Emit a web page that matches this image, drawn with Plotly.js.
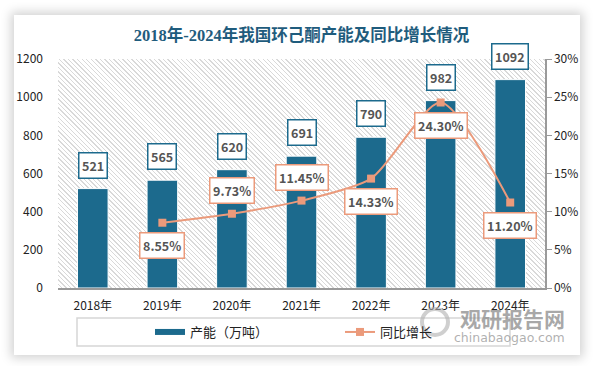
<!DOCTYPE html>
<html>
<head>
<meta charset="utf-8">
<script src="https://cdn.plot.ly/plotly-3.0.1.min.js"></script>
<style>
  html, body { margin:0; padding:0; background:#ffffff; width:594px; height:366px; overflow:hidden; }
  #card { position:absolute; left:14px; top:15px; width:566px; height:340px; background:#fff;
          box-shadow: 0 0 10px 3px rgba(0,0,0,0.18); }
  #hatch { position:absolute; left:58px; top:59px; width:487px; height:229px;
           background: repeating-linear-gradient(45deg, #ffffff 0px, #ffffff 2.2px, #d9d9d9 2.2px, #d9d9d9 3.2px); }
  #chart { position:absolute; left:0; top:0; width:594px; height:366px; }
</style>
</head>
<body>
<div id="card"></div>
<div id="hatch"></div>
<div id="chart"></div>
<script>
const categories = ['2018年','2019年','2020年','2021年','2022年','2023年','2024年'];
const capacity = [521, 565, 620, 691, 790, 982, 1092];
const growth = [null, 8.55, 9.73, 11.45, 14.33, 24.30, 11.20];
const growthLabels = ['', '8.55%', '9.73%', '11.45%', '14.33%', '24.30%', '11.20%'];
const growthLabelSide = [0, -1, 1, 1, -1, -1, -1];

const teal = '#1c6a8d';
const orange = '#eb9a7b';
const font = '"Noto Sans CJK SC", "Noto Sans", sans-serif';

const traces = [
  { type:'bar', x:categories, y:capacity, name:'产能（万吨）', marker:{color:teal, line:{color:'#ffffff', width:1}},
    width:0.44, showlegend:false, hoverinfo:'skip' },
  { type:'scatter', mode:'lines', x:[null], y:[null], name:'产能（万吨）', line:{color:teal, width:6},
    showlegend:true, legend:'legend' },
  { type:'scatter', mode:'lines+markers', x:categories, y:growth, yaxis:'y2', name:'同比增长',
    line:{color:orange, width:2, shape:'spline', smoothing:0.7},
    marker:{symbol:'square', size:8, color:orange}, connectgaps:false, legend:'legend2' }
];

const annotations = [];
capacity.forEach((v, i) => {
  annotations.push({ x:categories[i], y:v, xref:'x', yref:'y', yanchor:'bottom', yshift:10,
    text:'<b>' + v + '</b>', showarrow:false, font:{family:font, size:12.5, color:'#555555'},
    bgcolor:'#ffffff', bordercolor:teal, borderwidth:1.5, borderpad:2.5 });
});
growth.forEach((v, i) => {
  if (v === null) return;
  const s = growthLabelSide[i];
  annotations.push({ x:categories[i], y:v, xref:'x', yref:'y2', yanchor: s > 0 ? 'bottom' : 'top',
    yshift: s > 0 ? 10 : -9,
    text:'<b>' + growthLabels[i] + '</b>', showarrow:false, font:{family:font, size:12.5, color:'#555555'},
    bgcolor:'#ffffff', bordercolor:orange, borderwidth:1.5, borderpad:2.5 });
});
// watermark
annotations.push({ xref:'paper', yref:'paper', x:(512-58)/487, y:-(318-288)/229, xanchor:'center', yanchor:'middle', text:'<b>观研报告网</b>', showarrow:false,
  font:{family:font, size:21, color:'rgba(140,140,140,0.75)'} });
annotations.push({ xref:'paper', yref:'paper', x:(509-58)/487, y:-(337-288)/229, xanchor:'center', yanchor:'middle', text:'chinabaogao.com', showarrow:false,
  font:{family:'"DejaVu Sans", sans-serif', size:12.5, color:'rgba(150,150,150,0.75)'} });

const legendFont = {family:font, size:13, color:'#222'};
const layout = {
  width:594, height:366,
  margin:{l:58, r:49, t:59, b:78},
  paper_bgcolor:'rgba(0,0,0,0)', plot_bgcolor:'rgba(0,0,0,0)',
  title:{ text:'<b>2018年-2024年我国环己酮产能及同比增长情况</b>', x:0.5, xref:'paper', y:0.905, yanchor:'middle',
    font:{family:'"Liberation Serif", "Noto Sans CJK SC", serif', size:16.5, color:'#1f5c7d'} },
  font:{family:font, size:12, color:'#222222'},
  bargap:0.56,
  xaxis:{ type:'category', showline:true, linecolor:'#9a9a9a', linewidth:1.5, showgrid:false, ticks:'',
    ticklabelstandoff:6, tickfont:{family:font, size:12, color:'#222'}, fixedrange:true },
  yaxis:{ range:[0,1200], dtick:200, showgrid:false, zeroline:false, showline:false, ticks:'',
    ticklabelstandoff:14, tickfont:{family:font, size:12, color:'#222'} },
  yaxis2:{ range:[0,30], dtick:5, ticksuffix:'%', overlaying:'y', side:'right', showgrid:false, zeroline:false,
    showline:true, linecolor:'#9a9a9a', linewidth:1.5, ticks:'outside', ticklen:5, tickcolor:'#9a9a9a',
    tickfont:{family:font, size:12, color:'#222'} },
  legend:{ orientation:'h', x:(150-58)/487, xanchor:'left', y:-(332-288)/229, yanchor:'middle',
    bgcolor:'rgba(0,0,0,0)', font:legendFont },
  legend2:{ orientation:'h', x:(340-58)/487, xanchor:'left', y:-(332-288)/229, yanchor:'middle',
    bgcolor:'rgba(0,0,0,0)', font:legendFont },
  shapes:[
    { type:'rect', xref:'paper', yref:'paper', x0:(77-58)/487, x1:(510-58)/487, y0:-(346-288)/229, y1:-(318-288)/229,
      line:{color:'#d6d6d6', width:1.5}, fillcolor:'rgba(0,0,0,0)' },
    { type:'circle', xref:'paper', yref:'paper', x0:(422-58)/487, x1:(448-58)/487, y0:-(335-288)/229, y1:-(309-288)/229,
      line:{color:'rgba(175,175,175,0.6)', width:4}, fillcolor:'rgba(0,0,0,0)' }
  ],
  annotations:annotations,
  showlegend:true
};

Plotly.newPlot('chart', traces, layout, {displayModeBar:false, staticPlot:true});
</script>
</body>
</html>
